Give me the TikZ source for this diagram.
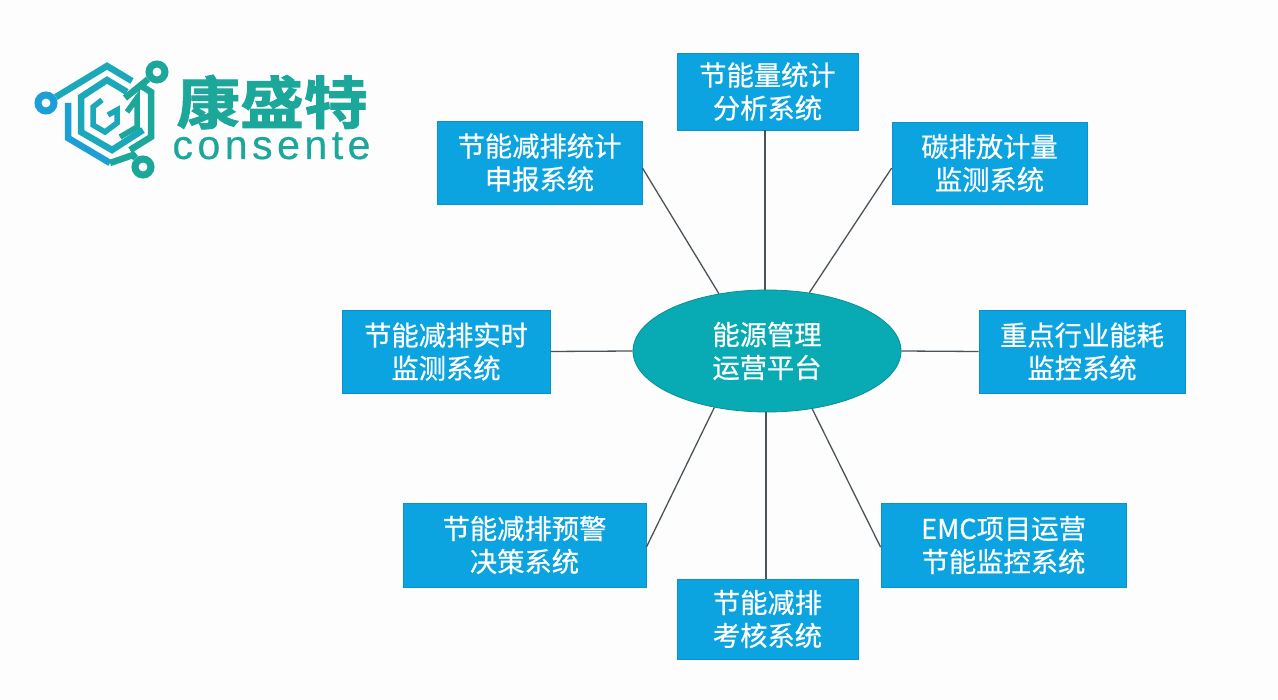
\documentclass[tikz,border=0pt]{standalone}
\usepackage{fontspec}
\usetikzlibrary{shapes.geometric}
\setmainfont{Liberation Sans}
\newfontfamily\cjk[FakeBold=0.6]{Noto Sans CJK SC}
\newfontfamily\cjkb[FakeBold=1.5,FakeStretch=1.12]{Noto Sans CJK SC Bold}
\newfontfamily\latinwide[LetterSpace=11,FakeBold=0.4]{Liberation Sans}
\definecolor{boxblue}{HTML}{0BA3E0}
\definecolor{ringteal}{HTML}{08AAB3}
\definecolor{logoteal}{HTML}{1BA79A}
\definecolor{logomid}{HTML}{1BA8B8}
\definecolor{logoblue}{HTML}{1B9FD6}
\definecolor{paper}{HTML}{FDFDFE}
\definecolor{linkgrey}{HTML}{4A5458}
\tikzset{
  sysbox/.style={draw=boxblue!90!black,line width=0.8pt,fill=boxblue,text=white,font=\cjk\fontsize{27.3}{33}\selectfont,align=center,inner sep=0pt},
  link/.style={draw=linkgrey,line width=1.3pt},
  logoline/.style={line width=6.5pt,line join=miter,draw=logoteal},
  logoring/.style={circle,draw=logoteal,line width=7pt,minimum size=16pt,inner sep=0pt}
}
\begin{document}
\begin{tikzpicture}[x=1pt,y=-1pt]
\useasboundingbox (0,0) rectangle (1278,700);
\fill[paper] (0,0) rectangle (1278,700);
% boxes
\node[sysbox,minimum width=181pt,minimum height=77pt] (top) at (767.5,91.5) {节能量统计\\分析系统};
\node[sysbox,minimum width=205pt,minimum height=83pt] (tl) at (539.5,162.5) {节能减排统计\\申报系统};
\node[sysbox,minimum width=195pt,minimum height=82pt] (tr) at (989.5,163) {碳排放计量\\监测系统};
\node[sysbox,minimum width=208pt,minimum height=83pt] (ml) at (446,351.5) {节能减排实时\\监测系统};
\node[sysbox,minimum width=206pt,minimum height=83pt] (mr) at (1082,351.5) {重点行业能耗\\监控系统};
\node[sysbox,minimum width=243pt,minimum height=84pt] (bl) at (524.5,545) {节能减排预警\\决策系统};
\node[sysbox,minimum width=245pt,minimum height=84pt] (br) at (1003.5,545) {EMC项目运营\\节能监控系统};
\node[sysbox,minimum width=181pt,minimum height=80pt] (bot) at (767.5,619) {节能减排\\考核系统};
\node[ellipse,draw=ringteal!85!black,line width=0.8pt,fill=ringteal,text=white,font=\cjk\fontsize{27.3}{33}\selectfont,align=center,minimum width=268pt,minimum height=122pt,inner sep=0pt] (hub) at (767,351) {能源管理\\运营平台};
% connectors
\draw[link] ([xshift=-2.5pt]top.south) -- ([xshift=-2pt]hub.north);
\draw[link] (tl.-3) -- (hub.130);
\draw[link] (tr.183) -- (hub.54);
\draw[link] (ml.east) -- (hub.west);
\draw[link] (mr.west) -- (hub.east);
\draw[link] (bl.-1) -- (hub.227.6);
\draw[link] (br.181) -- (hub.-52.8);
\draw[link] ([xshift=-1.5pt]bot.north) -- ([xshift=-1pt]hub.south);
% logo
\node[logoring,draw=logoblue] (ringa) at (46,103) {};
\node[logoring] (ringb) at (157,72) {};
\node[logoring] (ringc) at (143,167) {};
\draw[logoline,draw=logomid] (ringa) -- (107,66) -- (132,81);
\draw[logoline] (ringb) -- (125,98);
\draw[logoline] (140,85) -- (151,92) -- (151,137) -- (130,150);
\draw[logoline,draw=logoblue] (68,103) -- (68,138) -- (110,163);
\draw[logoline] (110,163) -- (133,155) -- (ringc);
\draw[logoline,draw=logomid] (127,92) -- (107,80) -- (81,97) -- (81,132) -- (112,150) -- (143,130);
\draw[logoline,line width=5.5pt,draw=logomid] (102,100) -- (93,107) -- (93,125) -- (105,132) -- (117,123) -- (117,110) -- (108,115);
\draw[logoline,line width=5.5pt] (127,112) -- (137,98) -- (137,127) -- (120,137);
\node[inner sep=0pt,text=logoteal,font=\cjkb\fontsize{57}{57}\selectfont] (brand) at (272,102) {康盛特};
\node[inner sep=0pt,anchor=base,text=logoteal,font=\latinwide\fontsize{41}{41}\selectfont] (latin) at (271.5,159) {consente};
\end{tikzpicture}
\end{document}
